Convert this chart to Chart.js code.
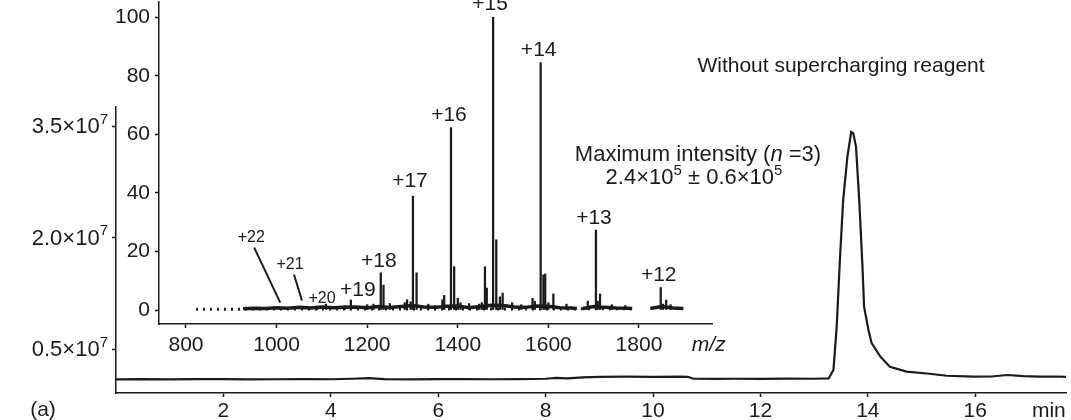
<!DOCTYPE html>
<html>
<head>
<meta charset="utf-8">
<script src="https://cdn.jsdelivr.net/npm/chart.js@4.4.0/dist/chart.umd.min.js"></script>
<style>
  html, body { margin: 0; padding: 0; background: #fff; }
  #wrap { position: relative; width: 1071px; height: 420px; }
  #outer { position: absolute; left: 0; top: 0; }
  #inset { position: absolute; left: 100px; top: 0; }
</style>
</head>
<body>
<div id="wrap">
  <canvas id="outer" width="1071" height="420"></canvas>
  <canvas id="inset" width="640" height="360"></canvas>
</div>
<script>
// chromatogram (outer plot), intensity in units of 10^7
let runTime = [0, 0.5, 1, 1.5, 2, 2.5, 3, 3.5, 4, 4.4, 4.7, 5, 5.5, 6, 6.5, 7, 7.5, 8, 8.2, 8.4, 8.7, 9, 9.5, 10, 10.5, 10.65,
  10.75, 11.2, 11.5, 12, 12.5, 13, 13.27, 13.36, 13.42, 13.48, 13.54, 13.62, 13.69, 13.73, 13.78, 13.84, 13.9, 13.93,
  14.01, 14.07, 14.23, 14.41, 14.72, 15.1, 15.47, 15.97, 16.3, 16.6, 16.9, 17.2, 17.5, 17.69];
let ticIntensity = [0.092, 0.095, 0.09, 0.094, 0.096, 0.09, 0.093, 0.095, 0.093, 0.1, 0.108, 0.096, 0.092, 0.094, 0.096, 0.093, 0.095, 0.1, 0.112, 0.104, 0.118, 0.124, 0.127, 0.125, 0.128, 0.126,
  0.1, 0.098, 0.1, 0.099, 0.102, 0.1, 0.104, 0.22, 0.8, 1.7, 2.5, 3.09, 3.42, 3.4, 3.22, 2.5, 1.61, 1.07,
  0.76, 0.58, 0.4, 0.26, 0.195, 0.17, 0.14, 0.128, 0.13, 0.15, 0.135, 0.128, 0.13, 0.125];
let timeTicks = [2, 4, 6, 8, 10, 12, 14, 16];
let timeUnitAt = 17.37;
let intensityTicks = [0.5, 2.0, 3.5];
let intensityTickText = ['0.5×10', '2.0×10', '3.5×10'];
let intensityExponent = '7';

// mass spectrum (inset), relative abundance %
let chargeStates = ['+22', '+21', '+20', '+19', '+18', '+17', '+16', '+15', '+14', '+13', '+12'];
let chargeMz = [1008, 1056, 1109, 1164, 1230, 1301, 1385, 1478, 1583, 1705, 1848];
let chargeAbundance = [0.8, 1.2, 2.0, 3.4, 12.7, 38.9, 62.3, 100, 84.5, 27.3, 7.7];
let sideMz = [1236, 1309, 1296, 1288, 1283, 1392, 1370, 1400, 1406, 1366, 1485, 1460, 1464, 1499, 1493, 1453, 1447,
  1589, 1593, 1565, 1570, 1611, 1600, 1714, 1709, 1687, 1860, 1853, 1200, 1214, 1250, 1335, 1350, 1425, 1520, 1540,
  1640, 1740, 1770, 1870, 1150, 1090, 960, 1040];
let sideAbundance = [8.5, 12.7, 2.8, 3.5, 2.5, 14.8, 5.0, 4.0, 2.5, 3.5, 24, 14.8, 7.5, 5.8, 4.5, 2.5, 2.0,
  12.0, 12.3, 4.0, 3.0, 5.5, 2.5, 5.5, 3.0, 3.0, 3.4, 2.0, 1.8, 2.0, 2.2, 2.0, 1.5, 2.2, 2.5, 1.8,
  2.0, 1.8, 1.5, 1.8, 1.5, 1.3, 1.0, 1.2];
let baseMz = [926, 950, 975, 1000, 1025, 1050, 1075, 1100, 1125, 1150, 1175, 1200, 1225, 1250, 1275, 1300, 1325, 1350,
  1375, 1400, 1425, 1450, 1475, 1500, 1525, 1550, 1575, 1600, 1625, 1650, 1663, 1670, 1676, 1700, 1725, 1750, 1775,
  1785, 1805, 1825, 1850, 1875, 1898];
let baseLevel = [0.4, 0.6, 0.5, 0.8, 0.6, 0.9, 0.7, 1.0, 0.8, 0.9, 1.0, 0.8, 1.2, 0.9, 1.2, 1.5, 1.0, 0.9,
  1.3, 1.4, 0.8, 1.2, 1.6, 1.5, 1.0, 0.9, 1.4, 1.3, 0.8, 0.7, 0.5, null, 0.5, 1.2, 0.9, 0.7, 0.6,
  0.5, null, 0.5, 1.2, 0.7, 0.5];
let dotMz = [822, 926, 1805, 1785, 1825];
let dotLevel = [0.3, 0.3, null, 0.4, 0.4];
let mzTicks = [800, 1000, 1200, 1400, 1600, 1800];
let mzUnitAt = 1954;
let abundanceTicks = [0, 20, 40, 60, 80, 100];

const FONT = "'Liberation Sans', Arial, Helvetica, sans-serif";
const INK = '#1b1b1b';
const CLEAR = 'rgba(0,0,0,0)';

// draws text pieces side by side; style '' normal, 'i' italic, 'sup' superscript
function richText(ctx, parts, x, cy, size, align) {
  let fontOf = (s) => s === 'i' ? `italic ${size}px ${FONT}` : s === 'sup' ? `${Math.round(size * 0.7)}px ${FONT}` : `${size}px ${FONT}`;
  let w = 0;
  parts.forEach(([t, s]) => { ctx.font = fontOf(s); w += ctx.measureText(t).width; });
  if (align === 'center') x -= w / 2;
  if (align === 'right') x -= w;
  ctx.textAlign = 'left';
  ctx.textBaseline = 'middle';
  parts.forEach(([t, s]) => {
    ctx.font = fontOf(s);
    ctx.fillText(t, x, s === 'sup' ? cy - size * 0.33 : cy);
    x += ctx.measureText(t).width;
  });
}

function noPad(s) {
  s.paddingTop = 0; s.paddingBottom = 0; s.paddingLeft = 0; s.paddingRight = 0;
}

const outerText = {
  id: 'outerText',
  afterDraw(chart) {
    let ctx = chart.ctx;
    let y = chart.scales.y;
    ctx.save();
    ctx.fillStyle = INK;
    intensityTicks.forEach((v, i) => {
      richText(ctx, [[intensityTickText[i], ''], [intensityExponent, 'sup']], 108, y.getPixelForValue(v) + 1, 22, 'right');
    });
    richText(ctx, [['Without supercharging reagent', '']], 841, 66, 21, 'center');
    richText(ctx, [['Maximum intensity (', ''], ['n', 'i'], [' =3)', '']], 698, 155, 22, 'center');
    richText(ctx, [['2.4×10', ''], ['5', 'sup'], [' ± 0.6×10', ''], ['5', 'sup']], 694, 178, 22, 'center');
    richText(ctx, [['(a)', '']], 43, 410, 21, 'center');
    ctx.restore();
  }
};

// label placement relative to each peak top, pixels
const labelPlace = {
  '+22': { dx: -29, dy: -70, size: 16, leader: [-26, -60, 0, -5] },
  '+21': { dx: -12, dy: -42, size: 16, leader: [-8, -32, 0, -6] },
  '+20': { dx: -4, dy: -6, size: 16 },
  '+19': { dx: 7, dy: -10, size: 21 },
  '+17': { dx: -3, dy: -15, size: 21 },
  '+15': { dx: -3, dy: -13, size: 21 }
};

const insetText = {
  id: 'insetText',
  afterDatasetsDraw(chart) {
    let { ctx, scales: { x, y } } = chart;
    ctx.save();
    ctx.fillStyle = INK;
    ctx.strokeStyle = INK;
    ctx.lineWidth = 2;
    ctx.textAlign = 'center';
    ctx.textBaseline = 'middle';
    chargeStates.forEach((lab, i) => {
      let p = labelPlace[lab] || { dx: -2, dy: -12, size: 21 };
      let px = x.getPixelForValue(chargeMz[i]);
      let py = y.getPixelForValue(chargeAbundance[i]);
      ctx.font = `${p.size}px ${FONT}`;
      ctx.fillText(lab, px + p.dx, py + p.dy);
      if (p.leader) {
        ctx.beginPath();
        ctx.moveTo(px + p.leader[0], py + p.leader[1]);
        ctx.lineTo(px + p.leader[2], py + p.leader[3]);
        ctx.stroke();
      }
    });
    ctx.restore();
  }
};

new Chart(document.getElementById('outer'), {
  type: 'line',
  data: {
    datasets: [{
      data: runTime.map((t, i) => ({ x: t, y: ticIntensity[i] })),
      borderColor: INK,
      borderWidth: 2.2,
      pointRadius: 0,
      tension: 0
    }]
  },
  options: {
    responsive: false,
    animation: false,
    layout: { padding: { left: 0, top: 107, right: 5, bottom: 0 } },
    plugins: { legend: { display: false }, tooltip: { enabled: false } },
    scales: {
      x: {
        type: 'linear', min: 0, max: 17.69,
        afterBuildTicks: (s) => { s.ticks = timeTicks.concat([timeUnitAt]).map(v => ({ value: v })); },
        afterFit: (s) => { s.height = 27; noPad(s); },
        border: { color: INK, width: 1.5 },
        grid: { drawOnChartArea: false, tickLength: 4, tickWidth: 1.5, tickColor: (c) => (c.tick && c.tick.value === timeUnitAt) ? CLEAR : INK },
        ticks: {
          autoSkip: false, maxRotation: 0, padding: 2, color: INK, font: { family: FONT, size: 21 },
          callback: (v) => v === timeUnitAt ? 'min' : String(v)
        }
      },
      y: {
        min: -0.092, max: 3.756,
        afterBuildTicks: (s) => { s.ticks = intensityTicks.map(v => ({ value: v })); },
        afterFit: (s) => { s.width = 116; noPad(s); },
        border: { color: INK, width: 1.5 },
        grid: { drawOnChartArea: false, tickLength: 4, tickWidth: 1.5, tickColor: INK },
        ticks: { display: false }
      }
    }
  },
  plugins: [outerText]
});

let sticks = chargeMz.map((m, i) => ({ x: m, y: chargeAbundance[i] }))
  .concat(sideMz.map((m, i) => ({ x: m, y: sideAbundance[i] })));

new Chart(document.getElementById('inset'), {
  type: 'bar',
  data: {
    datasets: [
      { type: 'bar', data: sticks, backgroundColor: INK, barThickness: 1.6, grouped: false },
      { type: 'line', data: baseMz.map((m, i) => ({ x: m, y: baseLevel[i] })), borderColor: INK, borderWidth: 3.5, pointRadius: 0, spanGaps: false },
      { type: 'line', data: dotMz.map((m, i) => ({ x: m, y: dotLevel[i] })).sort((a, b) => a.x - b.x),
        borderColor: INK, borderWidth: 3, borderDash: [2, 5], pointRadius: 0, spanGaps: false }
    ]
  },
  options: {
    responsive: false,
    animation: false,
    layout: { padding: { left: 0, top: 2, right: 28, bottom: 0 } },
    plugins: { legend: { display: false }, tooltip: { enabled: false } },
    scales: {
      x: {
        type: 'linear', offset: false, min: 740.4, max: 1961.2,
        afterBuildTicks: (s) => { s.ticks = mzTicks.concat([mzUnitAt]).map(v => ({ value: v })); },
        afterFit: (s) => { s.height = 36; noPad(s); },
        border: { color: INK, width: 1.5 },
        grid: { drawOnChartArea: false, offset: false, tickLength: 4, tickWidth: 1.5, tickColor: (c) => (c.tick && c.tick.value === mzUnitAt) ? CLEAR : INK },
        ticks: {
          autoSkip: false, maxRotation: 0, padding: 5, color: INK,
          font: (c) => (c.tick && c.tick.value === mzUnitAt) ? { family: FONT, size: 21, style: 'italic' } : { family: FONT, size: 21 },
          callback: (v) => v === mzUnitAt ? 'm/z' : String(v)
        }
      },
      y: {
        min: -4.78, max: 105.2,
        afterBuildTicks: (s) => { s.ticks = abundanceTicks.map(v => ({ value: v })); },
        afterFit: (s) => { s.width = 59; noPad(s); },
        border: { color: INK, width: 1.5 },
        grid: { drawOnChartArea: false, tickLength: 4, tickWidth: 1.5, tickColor: INK },
        ticks: { padding: 5, color: INK, font: { family: FONT, size: 21 } }
      }
    }
  },
  plugins: [insetText]
});
</script>
</body>
</html>
